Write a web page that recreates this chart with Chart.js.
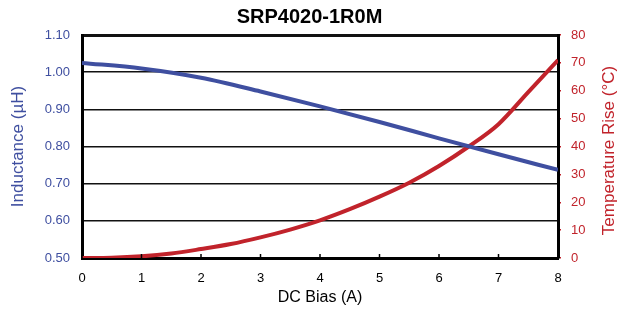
<!DOCTYPE html>
<html>
<head>
<meta charset="utf-8">
<script src="https://cdn.jsdelivr.net/npm/chart.js@4"></script>
<style>
  html, body { margin: 0; padding: 0; background: #fff; }
  #wrap { width: 619px; height: 312px; }
</style>
</head>
<body>
<div id="wrap"><canvas id="biasChart"></canvas></div>
<script>
// Data
const biasInd = [0, 1, 2, 3, 4, 5, 6, 7, 8];
const inductance = [1.025, 1.01, 0.985, 0.948, 0.908, 0.866, 0.822, 0.779, 0.737];
const biasTemp = [0, 0.5, 1, 1.5, 2, 2.5, 3, 3.5, 4, 4.5, 5, 5.5, 6, 6.5, 7, 7.5, 8];
const tempRise = [0, 0.1, 0.6, 1.6, 3.2, 5, 7.4, 10.2, 13.5, 17.5, 22, 27, 33, 40, 48, 59.5, 71];

const BLUE = '#3f4fa0';
const RED = '#c1232b';
const font = "'Liberation Sans Narrow', 'Liberation Sans', Arial, sans-serif";

// small inward tick marks on the x axis + right axis title read bottom-to-top
const extras = {
    id: 'extras',
    afterDatasetsDraw(chart) {
        const x = chart.scales.x;
        const ctx = chart.ctx;
        const area = chart.chartArea;
        ctx.save();
        ctx.strokeStyle = '#000';
        ctx.lineWidth = 1.5;
        x.ticks.forEach(function(t) {
            const px = x.getPixelForValue(t.value);
            ctx.beginPath();
            ctx.moveTo(px, area.bottom);
            ctx.lineTo(px, area.bottom - 4);
            ctx.stroke();
        });
        // right axis title
        ctx.translate(609, (area.top + area.bottom) / 2 + 4);
        ctx.rotate(-Math.PI / 2);
        ctx.fillStyle = RED;
        ctx.font = '17px ' + font;
        ctx.textAlign = 'center';
        ctx.textBaseline = 'middle';
        ctx.fillText('Temperature Rise (\u00b0C)', 0, 0);
        ctx.restore();
    }
};

new Chart(document.getElementById('biasChart'), {
    type: 'line',
    data: {
        datasets: [{
            label: 'Inductance',
            data: biasInd.map(function(b, i) { return { x: b, y: inductance[i] }; }),
            borderColor: BLUE,
            borderWidth: 4,
            pointRadius: 0,
            cubicInterpolationMode: 'monotone',
            yAxisID: 'y'
        }, {
            label: 'Temperature Rise',
            data: biasTemp.map(function(b, i) { return { x: b, y: tempRise[i] }; }),
            borderColor: RED,
            borderWidth: 4,
            pointRadius: 0,
            cubicInterpolationMode: 'monotone',
            yAxisID: 'y1'
        }]
    },
    options: {
        responsive: true,
        maintainAspectRatio: false,
        animation: false,
        layout: { padding: 0 },
        plugins: {
            legend: { display: false },
            tooltip: { enabled: false },
            title: {
                display: true,
                text: 'SRP4020-1R0M',
                color: '#000',
                font: { family: "'Liberation Sans', Arial, sans-serif", size: 20, weight: 'bold' },
                padding: { top: 5, bottom: 6 }
            }
        },
        scales: {
            x: {
                type: 'linear',
                min: 0,
                max: 8,
                ticks: { stepSize: 1, color: '#000', padding: 13, font: { family: font, size: 13 } },
                grid: { display: false, drawTicks: false },
                border: { display: true, color: '#000', width: 3 },
                title: {
                    display: true,
                    text: 'DC Bias (A)',
                    color: '#000',
                    padding: { top: 1, bottom: 5 },
                    font: { family: font, size: 16 }
                },
                afterFit: function(s) { s.height = 54; }
            },
            y: {
                position: 'left',
                min: 0.5,
                max: 1.1,
                ticks: {
                    stepSize: 0.1,
                    color: BLUE,
                    padding: 12,
                    font: { family: font, size: 13 },
                    callback: function(v) { return v.toFixed(2); }
                },
                grid: {
                    color: '#111',
                    lineWidth: function(c) { return c.index === c.scale.ticks.length - 1 ? 3 : 1.4; },
                    drawTicks: false
                },
                border: { display: true, color: '#000', width: 3 },
                title: {
                    display: true,
                    text: 'Inductance (\u00b5H)',
                    color: BLUE,
                    padding: { top: 8, bottom: 0 },
                    font: { family: font, size: 17 }
                },
                afterFit: function(s) { s.width = 82; }
            },
            y1: {
                position: 'right',
                min: 0,
                max: 80,
                ticks: { stepSize: 10, color: RED, padding: 10, font: { family: font, size: 13 } },
                grid: { drawOnChartArea: false, color: RED, tickLength: 3, lineWidth: 1.5 },
                border: { display: true, color: '#000', width: 3 },
                afterFit: function(s) { s.width = 61; }
            }
        }
    },
    plugins: [extras]
});
</script>
</body>
</html>
